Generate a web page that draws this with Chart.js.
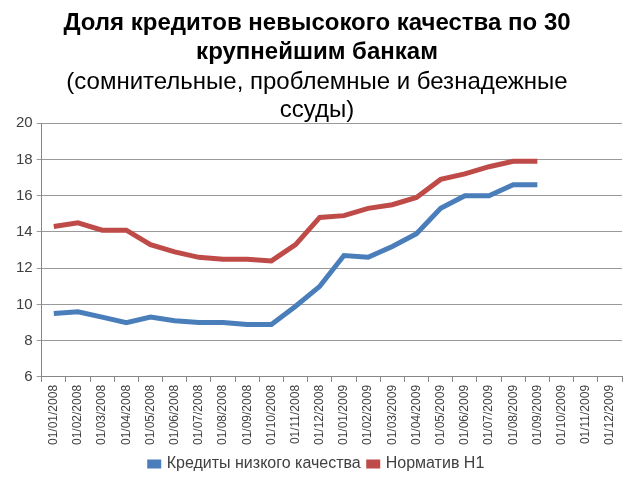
<!DOCTYPE html>
<html>
<head>
<meta charset="utf-8">
<script src="https://cdn.jsdelivr.net/npm/chart.js@4"></script>
<style>
  html, body { margin: 0; padding: 0; background: #fff; }
  #wrap { width: 640px; height: 480px; }
</style>
</head>
<body>
<div id="wrap"><canvas id="chart"></canvas></div>
<script>
// Months on the x axis
const months = [
  '01/01/2008', '01/02/2008', '01/03/2008', '01/04/2008', '01/05/2008', '01/06/2008',
  '01/07/2008', '01/08/2008', '01/09/2008', '01/10/2008', '01/11/2008', '01/12/2008',
  '01/01/2009', '01/02/2009', '01/03/2009', '01/04/2009', '01/05/2009', '01/06/2009',
  '01/07/2009', '01/08/2009', '01/09/2009', '01/10/2009', '01/11/2009', '01/12/2009'
];

// Series (%)
const lowQuality = [9.5, 9.6, 9.3, 9.0, 9.3, 9.1, 9.0, 9.0, 8.9, 8.9, 9.9, 11.0,
  12.7, 12.6, 13.2, 13.9, 15.3, 16.0, 16.0, 16.6, 16.6];
const normH1 = [14.3, 14.5, 14.1, 14.1, 13.3, 12.9, 12.6, 12.5, 12.5, 12.4, 13.3, 14.8,
  14.9, 15.3, 15.5, 15.9, 16.9, 17.2, 17.6, 17.9, 17.9];

const titleLines = ['Доля кредитов невысокого качества по 30', 'крупнейшим банкам'];
const subtitleLines = ['(сомнительные, проблемные и безнадежные', 'ссуды)'];

const BLUE = '#4a7ebb';
const RED = '#be4b48';
const FONT = "'Liberation Sans', Arial, sans-serif";

new Chart(document.getElementById('chart'), {
  type: 'line',
  data: {
    labels: months,
    datasets: [{
      label: 'Кредиты низкого качества',
      data: lowQuality,
      borderColor: BLUE,
      backgroundColor: BLUE,
      borderWidth: 5,
      pointRadius: 0,
      tension: 0
    }, {
      label: 'Норматив H1',
      data: normH1,
      borderColor: RED,
      backgroundColor: RED,
      borderWidth: 5,
      pointRadius: 0,
      tension: 0
    }]
  },
  options: {
    responsive: true,
    maintainAspectRatio: false,
    animation: false,
    layout: { padding: { left: 12, right: 18, top: 9, bottom: -2 } },
    plugins: {
      title: {
        display: true,
        text: titleLines,
        color: '#000',
        font: { family: FONT, size: 24, weight: 'bold' },
        lineHeight: 1.2,
        padding: { top: 0, bottom: 0 }
      },
      subtitle: {
        display: true,
        text: subtitleLines,
        color: '#000',
        font: { family: FONT, size: 24 },
        lineHeight: 1.2,
        padding: { top: 1, bottom: -2 }
      },
      legend: {
        position: 'bottom',
        labels: {
          color: '#404040',
          font: { family: FONT, size: 16 },
          boxWidth: 9,
          boxHeight: 4,
          padding: 8
        }
      },
      tooltip: { enabled: false }
    },
    scales: {
      x: {
        offset: true,
        grid: {
          offset: true,
          drawOnChartArea: false,
          tickLength: 5,
          color: '#868686'
        },
        border: { color: '#868686' },
        ticks: {
          color: '#404040',
          font: { family: FONT, size: 12 },
          maxRotation: 90,
          minRotation: 90,
          autoSkip: false,
          padding: 3
        }
      },
      y: {
        min: 6,
        max: 20,
        ticks: {
          stepSize: 2,
          color: '#404040',
          font: { family: FONT, size: 15 },
          padding: 4
        },
        grid: {
          color: '#9a9a9a',
          tickLength: 5
        },
        border: { color: '#868686' }
      }
    }
  }
});
</script>
</body>
</html>
